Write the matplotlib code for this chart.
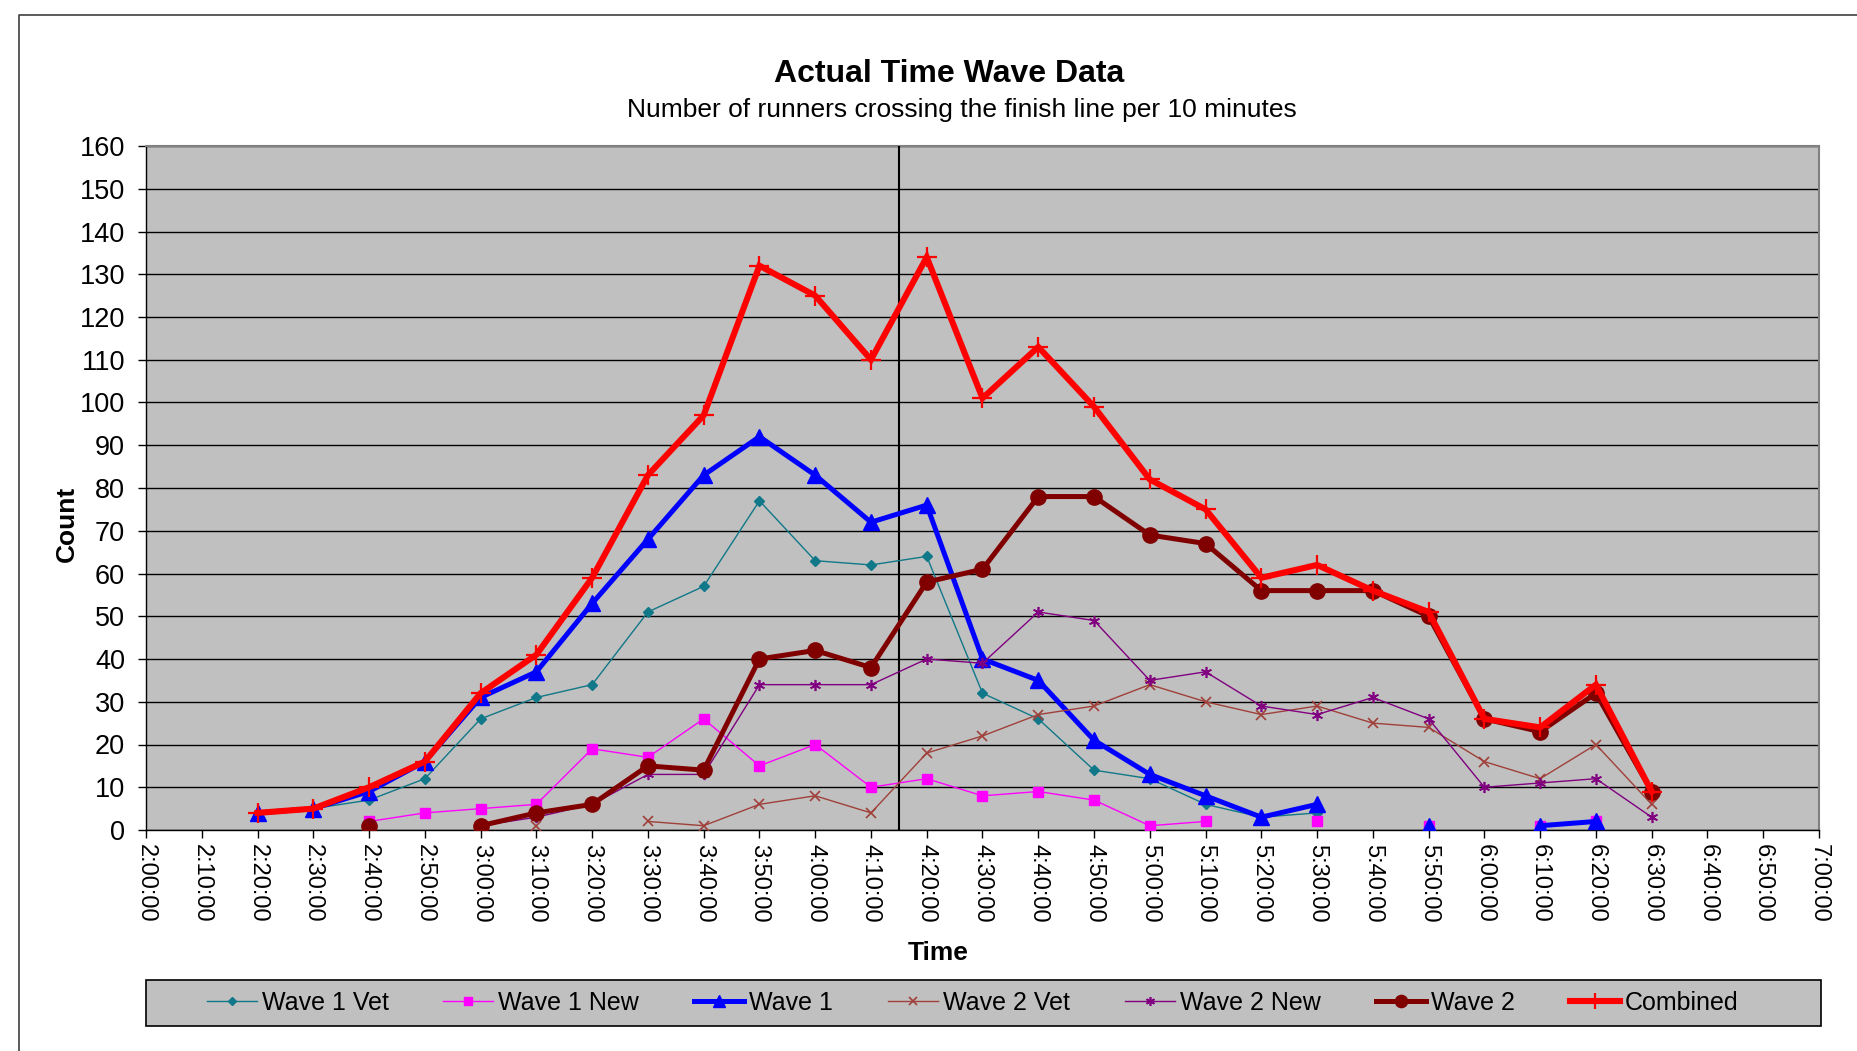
import matplotlib
matplotlib.use("Agg")
import matplotlib.pyplot as plt
from matplotlib.lines import Line2D
import numpy as np

plt.rcParams['font.family'] = ['Liberation Sans', 'DejaVu Sans']

# finish times, one bin per 10 minutes
times = ["2:20:00", "2:30:00", "2:40:00", "2:50:00", "3:00:00", "3:10:00", "3:20:00",
         "3:30:00", "3:40:00", "3:50:00", "4:00:00", "4:10:00", "4:20:00", "4:30:00",
         "4:40:00", "4:50:00", "5:00:00", "5:10:00", "5:20:00", "5:30:00", "5:40:00",
         "5:50:00", "6:00:00", "6:10:00", "6:20:00", "6:30:00"]

wave1_vet = [4, 5, 7, 12, 26, 31, 34, 51, 57, 77, 63, 62, 64, 32, 26, 14, 12, 6, 3, 4,
             None, None, None, None, None, None]
wave1_new = [None, None, 2, 4, 5, 6, 19, 17, 26, 15, 20, 10, 12, 8, 9, 7, 1, 2, None, 2,
             None, 1, None, 1, 2, None]
wave1 = [4, 5, 9, 16, 31, 37, 53, 68, 83, 92, 83, 72, 76, 40, 35, 21, 13, 8, 3, 6,
         None, 1, None, 1, 2, None]
wave2_vet = [None, None, None, None, None, 1, None, 2, 1, 6, 8, 4, 18, 22, 27, 29, 34, 30,
             27, 29, 25, 24, 16, 12, 20, 6]
wave2_new = [None, None, 1, None, 1, 3, 6, 13, 13, 34, 34, 34, 40, 39, 51, 49, 35, 37,
             29, 27, 31, 26, 10, 11, 12, 3]
wave2 = [None, None, 1, None, 1, 4, 6, 15, 14, 40, 42, 38, 58, 61, 78, 78, 69, 67,
         56, 56, 56, 50, 26, 23, 32, 9]
combined = [4, 5, 10, 16, 32, 41, 59, 83, 97, 132, 125, 110, 134, 101, 113, 99, 82, 75,
            59, 62, 56, 51, 26, 24, 34, 9]

wave_split = "4:15:00"


def to_min(s):
    h, m, _ = s.split(":")
    return int(h) * 60 + int(m)


def arr(vals):
    return np.array([np.nan if v is None else v for v in vals], dtype=float)


x = np.array([to_min(t) for t in times])

fig = plt.figure(figsize=(18.58, 10.51), dpi=100)
ax = fig.add_axes([146 / 1858, 1 - 830 / 1051, 1673 / 1858, 684 / 1051])
ax.set_facecolor("#c0c0c0")

# series: label, data, color, lw, marker, ms, mew
series = [
    ("Wave 1 Vet", wave1_vet, "#107888", 1.0, "D", 5.5, 1.0),
    ("Wave 1 New", wave1_new, "#ff00ff", 1.0, "s", 7, 1.0),
    ("Wave 1", wave1, "#0000ff", 3.6, "^", 11, 1.0),
    ("Wave 2 Vet", wave2_vet, "#a0403a", 1.0, "x", 7, 1.2),
    ("Wave 2 New", wave2_new, "#800080", 1.0, (6, 2, 0), 8, 1.2),
    ("Wave 2", wave2, "#800000", 3.6, "o", 11, 1.0),
    ("Combined", combined, "#ff0000", 4.4, "+", 14, 1.6),
]
for i, (lab, vals, col, lw, mk, ms, mew) in enumerate(series):
    ax.plot(x, arr(vals), color=col, lw=lw, marker=mk, ms=ms, mfc=col, mec=col,
            mew=mew, label=lab, zorder=5 + i, solid_joinstyle="miter")

ax.axvline(to_min(wave_split), color="black", lw=1.5, zorder=4)

ax.set_xlim(120, 420)
ax.set_ylim(0, 160)
xt = np.arange(120, 421, 10)
ax.set_xticks(xt)
ax.set_xticklabels([f"{m // 60}:{m % 60:02d}:00" for m in xt], rotation=-90,
                   fontsize=17)
ax.set_yticks(np.arange(0, 161, 10))
ax.tick_params(axis="y", labelsize=19.5, length=6, width=1, direction="out", pad=9)
ax.tick_params(axis="x", length=6, width=1, direction="out", pad=4)
ax.yaxis.grid(True, color="black", lw=1.0)
ax.set_axisbelow(True)
for side in ["top", "right"]:
    ax.spines[side].set_color("#808080")
    ax.spines[side].set_linewidth(1.5)
for side in ["left", "bottom"]:
    ax.spines[side].set_color("black")
    ax.spines[side].set_linewidth(1.0)

fig.text(949 / 1858, 1 - 74 / 1051, "Actual Time Wave Data", ha="center", va="center",
         fontsize=23, fontweight="bold")
fig.text(962 / 1858, 1 - 110 / 1051, "Number of runners crossing the finish line per 10 minutes",
         ha="center", va="center", fontsize=19)
fig.text(938 / 1858, 1 - 953 / 1051, "Time", ha="center", va="center", fontsize=19,
         fontweight="bold")
fig.text(67 / 1858, 1 - 524 / 1051, "Count", ha="center", va="center", fontsize=19,
         fontweight="bold", rotation=90)

# legend box spans the plot width, entries centred inside it
bx0, bx1 = 146 / 1858, 1821 / 1858
by0, by1 = 1 - 1026 / 1051, 1 - 980 / 1051
frame = plt.Rectangle((bx0, by0), bx1 - bx0, by1 - by0, transform=fig.transFigure,
                      facecolor="#c0c0c0", edgecolor="black", lw=1.2, zorder=1)
fig.add_artist(frame)
leg = fig.legend(loc="center", ncol=7, bbox_to_anchor=((bx0 + bx1) / 2 - 0.006, (by0 + by1) / 2),
                 fontsize=18, frameon=False, handlelength=2.0, handletextpad=0.2,
                 columnspacing=2.2, borderaxespad=0, markerscale=0.8)
leg.set_zorder(2)

# chart area border (cropped on the right and bottom)
fig.add_artist(Line2D([19 / 1858, 19 / 1858, 1.0], [0.0, 1 - 15 / 1051, 1 - 15 / 1051],
                      transform=fig.transFigure, color="#404040", lw=1.2))

fig.savefig("out.png", dpi=100)
